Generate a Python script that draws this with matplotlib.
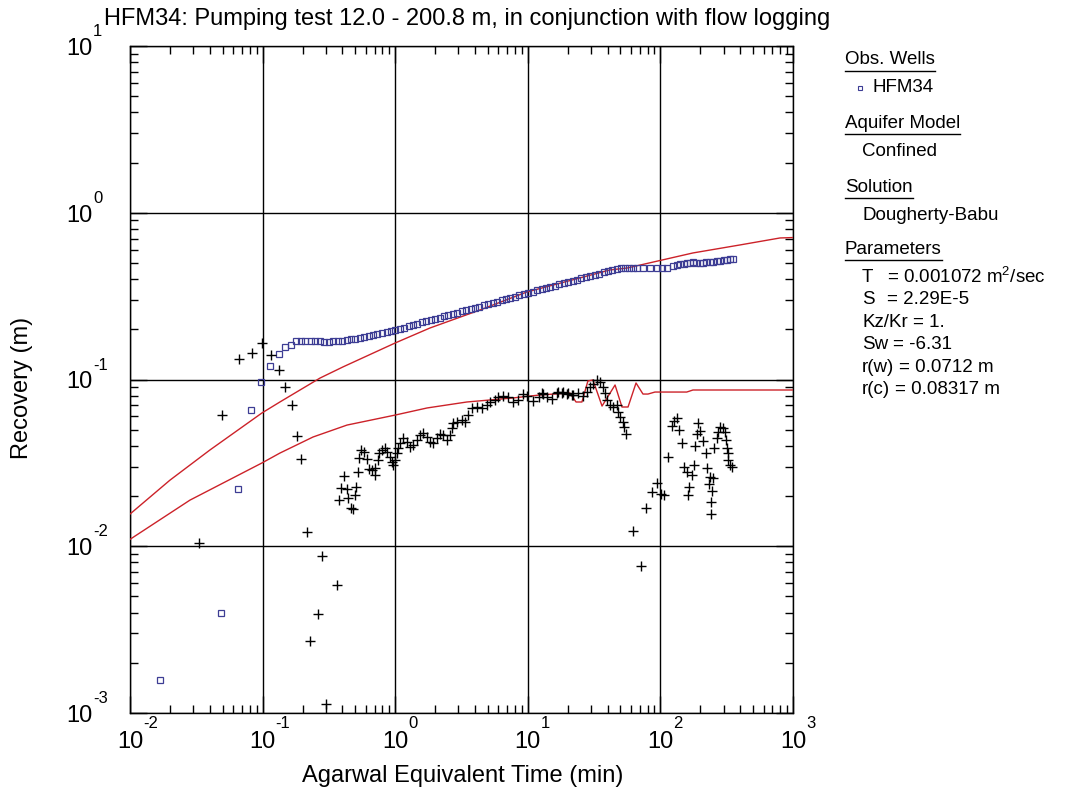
import matplotlib
matplotlib.use("Agg")
import matplotlib.pyplot as plt
from matplotlib.lines import Line2D
from matplotlib.ticker import LogLocator, NullFormatter

plt.rcParams['font.family'] = ['Liberation Sans', 'DejaVu Sans']
plt.rcParams['mathtext.fontset'] = 'custom'
plt.rcParams['mathtext.rm'] = 'Liberation Sans'
plt.rcParams['mathtext.it'] = 'Liberation Sans:italic'
plt.rcParams['mathtext.bf'] = 'Liberation Sans:bold'

title = "HFM34: Pumping test 12.0 - 200.8 m, in conjunction with flow logging"
xlabel = "Agarwal Equivalent Time (min)"
ylabel = "Recovery (m)"
x_exps = [-2, -1, 0, 1, 2, 3]
y_exps = [-3, -2, -1, 0, 1]

# observed recovery, HFM34 (squares)
obs_t = [0.0168, 0.0485, 0.0652, 0.0818, 0.0973, 0.114, 0.133, 0.148, 0.164,
         0.18, 0.195, 0.21, 0.23, 0.25, 0.27, 0.29, 0.315, 0.34, 0.37, 0.4,
         0.43, 0.465, 0.5, 0.54, 0.585, 0.63, 0.68, 0.735, 0.795, 0.86, 0.93, 1.0,
         1.08, 1.17, 1.26, 1.36, 1.47, 1.59, 1.72, 1.85, 2.0, 2.16, 2.33, 2.52,
         2.72, 2.94, 3.17, 3.43, 3.7, 4.0, 4.32, 4.66, 5.04, 5.44, 5.88, 6.35,
         6.85, 7.4, 8.0, 8.64, 9.33, 10.1,
         10.9, 11.8, 12.7, 13.7, 14.8, 16.0, 17.3, 18.7, 20.1, 21.8, 23.5, 25.4,
         27.4, 29.6, 32.0, 34.5, 37.3, 40.3, 43.5, 47.0, 50.7,
         54, 58, 62, 67, 74, 83.5, 94, 103, 112, 124.5, 133, 140.6, 150, 158.5,
         167, 176, 187, 199, 210, 222, 237, 250, 265, 282, 300, 318, 335, 352]
obs_s = [0.00158, 0.00398, 0.0220, 0.0656, 0.0966, 0.1205, 0.142, 0.157, 0.161,
         0.170, 0.171, 0.170, 0.171, 0.170, 0.169, 0.168, 0.168, 0.169, 0.170, 0.170,
         0.172, 0.174, 0.176, 0.178, 0.180, 0.182, 0.184, 0.187, 0.190, 0.193, 0.195, 0.198,
         0.201, 0.205, 0.208, 0.212, 0.216, 0.220, 0.223, 0.227, 0.231, 0.235, 0.239, 0.243,
         0.247, 0.252, 0.256, 0.260, 0.265, 0.269, 0.274, 0.279, 0.284, 0.288, 0.293, 0.299,
         0.304, 0.309, 0.314, 0.320, 0.325, 0.331,
         0.336, 0.342, 0.348, 0.353, 0.359, 0.365, 0.372, 0.378, 0.384, 0.391, 0.397, 0.404,
         0.410, 0.417, 0.424, 0.431, 0.439, 0.446, 0.453, 0.461, 0.467,
         0.466, 0.466, 0.466, 0.465, 0.468, 0.466, 0.466, 0.467, 0.468, 0.478, 0.486, 0.49,
         0.495, 0.50, 0.503, 0.505, 0.503, 0.50, 0.502, 0.505, 0.507, 0.51, 0.512, 0.514,
         0.518, 0.522, 0.525, 0.527]

# derivative of recovery (crosses)
deriv_t = [0.0331, 0.0494, 0.0664, 0.0832, 0.099, 0.1156, 0.133, 0.1476, 0.1667,
           0.1817, 0.195, 0.216, 0.2805, 0.364, 0.262, 0.228, 0.301,
           0.377, 0.390, 0.411, 0.433, 0.4406, 0.464, 0.4808, 0.4977, 0.506, 0.524,
           0.5333, 0.552, 0.5816, 0.6129, 0.6344, 0.6683, 0.7042, 0.7042, 0.742, 0.7548,
           0.7953, 0.838, 0.8674, 0.9137, 0.946, 0.9625, 0.9965, 1.032, 1.05, 1.087,
           1.145, 1.227, 1.293, 1.362, 1.46, 1.538, 1.621, 1.737, 1.83, 1.928,
           2.066, 2.177, 2.294, 2.458, 2.59, 2.682, 2.729, 2.925, 3.19, 3.36,
           3.54, 3.795, 4.14, 4.515, 4.924, 5.187, 5.656, 5.96, 6.5, 7.09,
           7.73, 8.44, 9.2, 9.86, 10.94, 12.15, 13.02, 13.96, 15.22, 16.61,
           18.11, 19.75, 21.54,
           12.8, 16.9, 18.43, 20.1, 21.9, 23.9, 26.1, 27.96, 29.5, 31.0, 33.3, 35.0,
           36.9, 38.2, 39.6, 41.7, 43.9, 47.1, 47.9, 49.6, 52.2, 53.2, 55.0,
           62.1, 71.4, 77.9, 86.5, 94.2, 101, 106.4, 114, 122.4, 126.6, 133.4,
           138, 145.5, 150.7, 158.7, 173, 164.4, 161.5, 179.2, 182.4, 188.8,
           192.1, 198.9, 209.6, 220.8, 224.6, 236.6, 232.5, 245, 240.8, 240.8,
           249.3, 253.6, 267.3, 271.9, 281.5, 296.5, 307, 312.5, 318, 323.5,
           323.5, 335, 346.7]
deriv_s = [0.01045, 0.0612, 0.1327, 0.1442, 0.1656, 0.1403, 0.114, 0.0902, 0.0703,
           0.0458, 0.0334, 0.01217, 0.00874, 0.00586, 0.00393, 0.0027, 0.00113,
           0.01884, 0.02235, 0.02638, 0.02204, 0.01947, 0.01696, 0.01673, 0.02029, 0.02266, 0.02788,
           0.03384, 0.0378, 0.03675, 0.03337, 0.02906, 0.02866, 0.02947, 0.02675, 0.03291, 0.03625,
           0.0378, 0.03886, 0.03675, 0.0343, 0.032, 0.0307, 0.03291, 0.03625, 0.03886, 0.04164,
           0.04462, 0.04221, 0.03938, 0.0405, 0.04339, 0.04649, 0.04779, 0.04521, 0.04221, 0.04164,
           0.04462, 0.04714, 0.04649, 0.04339, 0.04649, 0.05121, 0.05488, 0.05564, 0.0572, 0.05564,
           0.06127, 0.0675, 0.06843, 0.0675, 0.07035, 0.0733, 0.0754, 0.0786, 0.0797, 0.0786,
           0.0733, 0.0754, 0.0818, 0.0797, 0.0743, 0.0786, 0.0818, 0.0786, 0.0765, 0.083,
           0.083, 0.0818, 0.0807,
           0.083, 0.0836, 0.0836, 0.083, 0.0807, 0.083, 0.0797, 0.0836, 0.0901, 0.094, 0.0993, 0.0966,
           0.0901, 0.083, 0.0754, 0.0703, 0.0684, 0.0703, 0.0638, 0.0596, 0.0556, 0.0519, 0.0471,
           0.01233, 0.00761, 0.01695, 0.0211, 0.0239, 0.0206, 0.0203, 0.0343, 0.0526, 0.0564, 0.0588,
           0.0498, 0.0416, 0.0299, 0.0279, 0.0267, 0.0226, 0.0203, 0.0307, 0.0399, 0.0471,
           0.0548, 0.0491, 0.0428, 0.0362, 0.0294, 0.026, 0.0236, 0.0214, 0.0184, 0.0156,
           0.0256, 0.0388, 0.0446, 0.0484, 0.0519, 0.0512, 0.0484, 0.0434, 0.0388, 0.0362,
           0.0329, 0.0307, 0.0299]

# Dougherty-Babu fitted curves
fit_t = [0.01, 0.02, 0.0401, 0.0989, 0.135, 0.271, 0.404, 1.0, 1.83, 4.35,
         9.86, 41.7, 56, 176, 398, 798, 1000]
fit_s = [0.0156, 0.0249, 0.0378, 0.063, 0.0733, 0.102, 0.119, 0.1656, 0.2037, 0.261,
         0.335, 0.454, 0.466, 0.574, 0.641, 0.706, 0.71]
fitd_t = [0.01, 0.0283, 0.099, 0.135, 0.24, 0.433, 1.0, 1.74, 3.47, 7.72, 12.4, 20.8,
          23.1, 25.6, 28.4, 31.0, 36.3, 45.5, 51.3, 57, 65.5, 73.9, 80.6, 91, 158,
          176, 1000]
fitd_s = [0.0110, 0.0189, 0.0316, 0.0362, 0.0452, 0.0533, 0.0612, 0.0675, 0.0733, 0.0775,
          0.0808, 0.083, 0.0733, 0.0733, 0.098, 0.0993, 0.0693, 0.0927, 0.0684, 0.0684,
          0.0953, 0.0818, 0.0818, 0.0841, 0.0841, 0.0865, 0.0865]

panel = [("Obs. Wells", True), ("HFM34", False), ("Aquifer Model", True), ("Confined", False),
         ("Solution", True), ("Dougherty-Babu", False), ("Parameters", True)]
param_names = ["T", "S", "Kz/Kr", "Sw", "r(w)", "r(c)"]
param_values = [r"= 0.001072 m$^{2}$/sec", "= 2.29E-5", "= 1.", "= -6.31", "= 0.0712 m", "= 0.08317 m"]

W, H = 1080, 796
PT = 0.72  # points per pixel at 100 dpi
fig = plt.figure(figsize=(W / 100, H / 100), dpi=100)
ax = fig.add_axes([130 / W, 1 - 713 / H, 663 / W, 667 / H])

ax.plot(fit_t, fit_s, color='#cc2229', lw=1.0, zorder=3)
ax.plot(fitd_t, fitd_s, color='#cc2229', lw=1.0, zorder=3)
ax.plot(obs_t, obs_s, ls='none', marker='s', ms=4.6, mfc='none', mec='#3d3d94', mew=0.9, zorder=4)
ax.plot(deriv_t, deriv_s, ls='none', marker='+', ms=6.5, color='black', mew=1.0, zorder=4)

ax.set_xscale('log')
ax.set_yscale('log')
ax.set_xlim(1e-2, 1e3)
ax.set_ylim(1e-3, 1e1)
ax.xaxis.set_major_locator(LogLocator(base=10, numticks=12))
ax.yaxis.set_major_locator(LogLocator(base=10, numticks=12))
ax.xaxis.set_minor_locator(LogLocator(base=10, subs=range(2, 10), numticks=12))
ax.yaxis.set_minor_locator(LogLocator(base=10, subs=range(2, 10), numticks=12))
ax.xaxis.set_major_formatter(NullFormatter())
ax.yaxis.set_major_formatter(NullFormatter())
ax.xaxis.set_minor_formatter(NullFormatter())
ax.yaxis.set_minor_formatter(NullFormatter())
ax.grid(True, which='major', color='black', lw=1.0)
ax.tick_params(which='both', direction='in', top=True, right=True, width=1.0)
ax.tick_params(which='major', length=12)
ax.tick_params(which='minor', length=6)
for sp in ax.spines.values():
    sp.set_linewidth(1.0)

# tick labels drawn as "10" plus a raised exponent
for e in x_exps:
    ax.annotate("10", (10.0 ** e, 0), xycoords=('data', 'axes fraction'),
                xytext=(0, -35 * PT), textcoords='offset points',
                ha='center', va='baseline', fontsize=17)
    ax.annotate(str(e), (10.0 ** e, 0), xycoords=('data', 'axes fraction'),
                xytext=(13 * PT, -15 * PT), textcoords='offset points',
                ha='left', va='baseline', fontsize=12)
for e in y_exps:
    ax.annotate("10", (0, 10.0 ** e), xycoords=('axes fraction', 'data'),
                xytext=(-38 * PT, -9 * PT), textcoords='offset points',
                ha='right', va='baseline', fontsize=17)
    ax.annotate(str(e), (0, 10.0 ** e), xycoords=('axes fraction', 'data'),
                xytext=(-37 * PT, 10 * PT), textcoords='offset points',
                ha='left', va='baseline', fontsize=12)

fig.text(463 / W, 1 - 776 / H, xlabel, ha='center', va='center', fontsize=17)
fig.text(22 / W, 1 - 388 / H, ylabel, ha='center', va='center', rotation=90, fontsize=17)
fig.text(467 / W, 1 - 19 / H, title, ha='center', va='center', fontsize=17)

# right-hand info panel
fs = 13.5
ys = [60, 88, 123, 151, 187, 216, 249]
fig.canvas.draw()
renderer = fig.canvas.get_renderer()
for (txt, head), yp in zip(panel, ys):
    xp = 845 if head else 872 if txt == "HFM34" else 862
    t = fig.text(xp / W, 1 - yp / H, txt, ha='left', va='center', fontsize=fs)
    if head:
        bb = t.get_window_extent(renderer)
        fig.add_artist(Line2D([bb.x0 / W, bb.x1 / W], [1 - (yp + 11) / H] * 2,
                              color='black', lw=1.0))
fig.add_artist(Line2D([860 / W], [1 - 88 / H], ls='none', marker='s', ms=3.5,
                      mfc='none', mec='#3d3d94', mew=0.8))
for i, (nm, val) in enumerate(zip(param_names, param_values)):
    yp = 277 + 22.6 * i
    t = fig.text(862 / W, 1 - yp / H, nm, ha='left', va='center', fontsize=fs)
    bb = t.get_window_extent(renderer)
    xv = max(887, bb.x1 + 5)
    fig.text(xv / W, 1 - yp / H, val, ha='left', va='center', fontsize=fs)

fig.savefig("out.png", dpi=100)
